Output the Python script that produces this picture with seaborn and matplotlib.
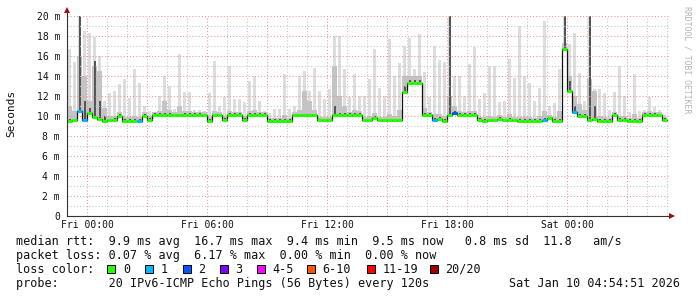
import numpy as np
import matplotlib
matplotlib.use("Agg")
import matplotlib.pyplot as plt
from matplotlib.patches import Rectangle
from matplotlib.ticker import MultipleLocator
import seaborn as sns

# ---------------- data (hours relative to Fri 00:00, 15-minute samples) ----------------
bin_hours = 0.25
hours = np.arange(-1.0, 29.0, bin_hours)

median_ms = [
    9.5, 9.55, 10.5, 9.6, 10.3, 9.85, 9.65, 9.45, 9.55, 9.6,
    10.0, 9.5, 9.5, 9.5, 9.5, 10.0, 9.6, 10.1, 10.1, 10.1,
    10.1, 10.05, 10.05, 10.1, 10.1, 10.1, 10.1, 10.05, 9.5, 10.05,
    10.05, 9.6, 10.1, 10.1, 10.1, 9.6, 10.1, 10.1, 10.1, 10.1,
    9.5, 9.5, 9.5, 9.5, 9.5, 10.05, 10.05, 10.05, 10.05, 10.05,
    9.55, 9.55, 9.55, 10.1, 10.1, 10.1, 10.1, 10.1, 10.1, 9.55,
    9.55, 9.8, 9.55, 9.55, 9.55, 9.55, 9.55, 12.4, 13.3, 13.3,
    13.3, 10.1, 10.1, 9.6, 9.7, 9.5, 10.1, 10.3, 10.1, 10.1,
    10.1, 10.1, 9.6, 9.5, 9.55, 9.55, 9.7, 9.55, 9.6, 9.55,
    9.5, 9.5, 9.5, 9.5, 9.5, 9.6, 9.75, 9.5, 9.5, 16.7,
    12.5, 10.4, 10.0, 10.0, 9.6, 9.65, 9.5, 9.5, 9.5, 10.1,
    9.6, 9.6, 9.5, 9.5, 9.5, 10.1, 10.1, 10.1, 10.05, 9.6,
]

smoke_max = [
    16.6, 15.4, 20.0, 18.5, 18.3, 17.8, 16.0, 11.5, 12.3, 12.5,
    13.2, 13.7, 11.8, 14.7, 13.3, 11.0, 10.5, 10.3, 12.0, 14.0,
    13.0, 10.7, 16.2, 12.3, 12.3, 10.6, 10.6, 10.5, 12.3, 15.5,
    11.0, 11.8, 15.0, 11.7, 11.7, 11.3, 13.5, 14.0, 11.5, 10.5,
    10.3, 10.7, 10.7, 14.2, 10.7, 11.0, 14.0, 14.5, 12.5, 14.8,
    12.5, 11.7, 12.7, 18.0, 18.0, 14.7, 11.8, 14.2, 12.0, 12.0,
    13.7, 16.7, 12.8, 12.0, 17.7, 14.0, 15.3, 17.0, 17.8, 14.7,
    18.2, 14.3, 11.8, 17.0, 15.5, 15.3, 20.0, 14.0, 14.0, 12.0,
    15.2, 16.8, 11.7, 12.3, 15.0, 15.0, 11.3, 11.5, 15.7, 13.8,
    19.0, 14.0, 13.3, 11.5, 12.8, 19.5, 11.0, 11.3, 14.7, 20.0,
    17.2, 18.3, 14.3, 11.5, 20.0, 12.7, 12.7, 12.3, 10.6, 12.3,
    15.0, 12.0, 10.4, 14.2, 10.5, 10.6, 11.8, 10.8, 10.6, 10.1,
]

smoke_mid = [
    11.0, 10.5, 16.0, 14.0, 11.5, 15.0, 14.5, 10.8, 10.0, 10.0,
    10.4, 9.9, 9.9, 10.0, 9.9, 10.4, 10.0, 10.4, 10.5, 11.5,
    10.6, 10.35, 11.0, 10.5, 10.5, 10.4, 10.4, 10.35, 9.9, 10.5,
    10.35, 10.0, 10.5, 10.4, 10.4, 10.0, 10.5, 10.6, 10.4, 10.4,
    9.8, 9.8, 9.8, 10.1, 9.8, 10.35, 10.6, 12.5, 11.5, 10.6,
    9.9, 9.85, 9.9, 15.0, 12.0, 11.0, 10.4, 10.6, 10.5, 9.9,
    10.0, 10.3, 9.9, 9.85, 10.2, 10.0, 10.6, 14.0, 14.0, 14.0,
    14.0, 10.8, 10.4, 10.2, 10.2, 10.0, 12.0, 11.0, 10.5, 10.4,
    10.5, 10.5, 9.9, 9.9, 10.0, 9.9, 10.1, 9.9, 10.2, 9.9,
    9.9, 9.9, 9.9, 9.8, 10.0, 10.5, 10.1, 9.9, 10.5, 17.3,
    14.0, 12.0, 11.2, 10.6, 13.7, 12.5, 10.0, 9.9, 9.8, 10.4,
    10.0, 10.0, 9.8, 10.2, 9.8, 10.4, 10.5, 10.4, 10.35, 9.9,
]

smoke_dark = [
    9.65, 9.7, 20.0, 11.5, 10.8, 15.5, 11.5, 10.0, 9.7, 9.75,
    10.15, 9.65, 9.65, 9.65, 9.65, 10.15, 9.75, 10.25, 10.25, 10.25,
    10.25, 10.2, 10.2, 10.25, 10.25, 10.25, 10.25, 10.2, 9.65, 10.2,
    10.2, 9.75, 10.25, 10.25, 10.25, 9.75, 10.25, 10.25, 10.25, 10.25,
    9.65, 9.65, 9.65, 9.65, 9.65, 10.2, 10.2, 10.2, 10.2, 10.2,
    9.7, 9.7, 9.7, 11.0, 10.25, 10.25, 10.25, 10.25, 10.25, 9.7,
    9.7, 9.95, 9.7, 9.7, 9.7, 9.7, 9.7, 13.0, 13.6, 13.6,
    13.6, 10.25, 10.25, 9.75, 9.85, 9.65, 20.0, 10.45, 10.25, 10.25,
    10.25, 10.25, 9.75, 9.65, 9.7, 9.7, 9.85, 9.7, 9.75, 9.7,
    9.65, 9.65, 9.65, 9.65, 9.65, 9.75, 9.9, 9.65, 9.65, 20.0,
    13.5, 11.0, 10.15, 10.15, 20.0, 11.0, 9.65, 9.65, 9.65, 10.25,
    9.75, 9.75, 9.65, 9.65, 9.65, 10.25, 10.25, 10.25, 10.2, 9.75,
]

# lost pings (of 20) per sample
loss_count = [0] * 120
for idx, n in [(2, 1), (3, 1), (14, 1), (73, 1), (77, 2), (95, 1), (101, 1)]:
    loss_count[idx] = n

tick_hours = [0, 6, 12, 18, 24]
tick_labels = ["Fri 00:00", "Fri 06:00", "Fri 12:00", "Fri 18:00", "Sat 00:00"]
ytick_values = [0, 2, 4, 6, 8, 10, 12, 14, 16, 18, 20]
ytick_labels = ["0", "2 m", "4 m", "6 m", "8 m", "10 m", "12 m", "14 m", "16 m", "18 m", "20 m"]

loss_labels = ["0", "1", "2", "3", "4-5", "6-10", "11-19", "20/20"]
loss_colors = ["#26ff00", "#00b8ff", "#0059ff", "#7e00ff", "#ff00ff", "#ff5500", "#ff0000", "#a10000"]

line_median = "median rtt:  9.9 ms avg  16.7 ms max  9.4 ms min  9.5 ms now   0.8 ms sd  11.8   am/s"
line_loss = "packet loss: 0.07 % avg  6.17 % max  0.00 % min  0.00 % now"
line_probe = "probe:       20 IPv6-ICMP Echo Pings (56 Bytes) every 120s"
stamp = "Sat Jan 10 04:54:51 2026"
watermark = "RRDTOOL / TOBI OETIKER"

# ---------------- figure ----------------
W, H = 697, 297
sns.set_style("white")
plt.rcParams['font.family'] = ['DejaVu Sans Mono', 'DejaVu Sans']
fig = plt.figure(figsize=(W / 100, H / 100), dpi=100)
fig.patch.set_facecolor("white")

ax_l, ax_r, ax_b, ax_t = 67, 669, 215.5, 15.5
ax = fig.add_axes([ax_l / W, 1 - ax_b / H, (ax_r - ax_l) / W, (ax_b - ax_t) / H])
ax.set_facecolor("white")
x_left = (ax_l - 87.3) / 20.0
x_right = (ax_r - 87.3) / 20.0
ax.set_xlim(x_left, x_right)
ax.set_ylim(0, 20)

xe = np.append(hours, hours[-1] + bin_hours)
def ext(a):
    a = np.asarray(a, dtype=float)
    return np.append(a, a[-1])

med = np.asarray(median_ms)
centers = hours + bin_hours / 2
# smoke: light spikes, medium continuous band, dark narrow cores
ax.bar(centers, np.asarray(smoke_max) - med, bottom=med, width=bin_hours * 0.62,
       color="#dddddd", lw=0, zorder=2)
ax.fill_between(xe, ext(med), ext(smoke_mid), step="post", color="#c4c4c4", lw=0, zorder=2.1)
ax.bar(centers, np.asarray(smoke_dark) - med, bottom=med, width=bin_hours * 0.5,
       color="#555555", lw=0, zorder=2.2)

# grid
ax.set_xticks([h for h in range(0, 28, 3)])
ax.set_xticklabels([tick_labels[tick_hours.index(h)] if h in tick_hours else "" for h in range(0, 28, 3)])
ax.xaxis.set_minor_locator(MultipleLocator(1))
ax.set_yticks(ytick_values)
ax.set_yticklabels(ytick_labels)
ax.yaxis.set_minor_locator(MultipleLocator(1))
ax.grid(which="minor", color="#c4c4c4", linestyle=(0, (1, 2)), lw=0.75, zorder=3)
ax.grid(which="major", color="#e89494", linestyle=(0, (1, 2)), lw=0.75, zorder=3)
ax.set_axisbelow(False)
for gl in ax.get_xgridlines() + ax.get_ygridlines():
    gl.set_zorder(3)

# median: black step line under loss-coloured segments
sns.lineplot(x=xe, y=ext(med), drawstyle="steps-post", color="#111111", lw=0.9,
             ax=ax, zorder=4, estimator=None, sort=False)
seg_colors = [loss_colors[c] if c <= 3 else loss_colors[4] for c in loss_count]
ax.hlines(med, hours, hours + bin_hours, colors=seg_colors, lw=2.2, zorder=5)

# axes styling
for s in ["top", "right"]:
    ax.spines[s].set_visible(False)
for s in ["left", "bottom"]:
    ax.spines[s].set_color("#333333")
    ax.spines[s].set_linewidth(0.8)
    ax.spines[s].set_zorder(6)
ax.tick_params(axis="both", which="major", length=1.5, width=0.8, color="#333333",
               labelsize=7, labelcolor="#111111")
ax.tick_params(axis="y", which="major", pad=3.5)
ax.tick_params(axis="x", which="major", pad=2.0)
ax.tick_params(which="minor", length=0)
ax.set_xlabel("")
ax.set_ylabel("")

# axis arrows
ax.plot([0, 0], [1, 1.016], transform=ax.transAxes, color="#333333", lw=0.8, clip_on=False, zorder=6)
ax.plot([0], [1.026], marker="^", markersize=4, color="#a01010", transform=ax.transAxes,
        clip_on=False, zorder=7, markeredgewidth=0)
ax.plot([1.0 + 2.7 / (ax_r - ax_l)], [0], marker=">", markersize=4, color="#a01010",
        transform=ax.transAxes, clip_on=False, zorder=7, markeredgewidth=0)

# y label and watermark
fig.text(11 / W, 1 - 113.5 / H, "Seconds", rotation=90, ha="center", va="center",
         fontsize=8, color="#111111")
fig.text(686.5 / W, 1 - 60 / H, watermark, rotation=270, ha="center", va="center",
         fontsize=5.9, color="#b4b4b4")

# legend rows
fs = 8.5
def ftext(x, y_base, s, **kw):
    fig.text(x / W, 1 - y_base / H, s, fontsize=fs, va="baseline", color="#111111", **kw)

ftext(16, 245, line_median)
ftext(16, 259, line_loss)
ftext(16, 273, "loss color:")
ftext(16, 287, line_probe)
ftext(680, 287, stamp, ha="right")

box_x = [107.3, 145, 182.7, 220, 256.7, 306.7, 366.7, 430]
for bx, lab, col in zip(box_x, loss_labels, loss_colors):
    fig.patches.append(Rectangle((bx / W, 1 - 273 / H), 8 / W, 8 / H, transform=fig.transFigure,
                                 facecolor=col, edgecolor="#000000", lw=0.7, figure=fig))
    ftext(bx + 15.5, 273, lab)

fig.savefig("out.png", dpi=100, facecolor="white")
